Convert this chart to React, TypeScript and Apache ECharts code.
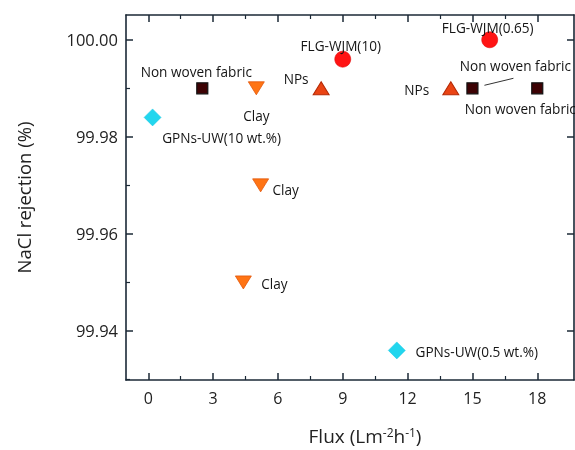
import React, { useEffect, useRef } from "react";
import * as echarts from "echarts";

// ---- data ----
const gpnsFlux = [0.2, 11.5];
const gpnsRejection = [99.984, 99.936];
const gpnsLabels = ["GPNs-UW(10 wt.%)", "GPNs-UW(0.5 wt.%)"];

const nonWovenFlux = [2.5, 15, 18];
const nonWovenRejection = [99.99, 99.99, 99.99];
const nonWovenLabels = ["Non woven fabric", "Non woven fabric", "Non woven fabric"];

const clayFlux = [5, 5.2, 4.4];
const clayRejection = [99.99, 99.97, 99.95];
const clayLabels = ["Clay", "Clay", "Clay"];

const npsFlux = [8, 14];
const npsRejection = [99.99, 99.99];
const npsLabels = ["NPs", "NPs"];

const flgFlux = [9, 15.8];
const flgRejection = [99.996, 100.0];
const flgLabels = ["FLG-WJM(10)", "FLG-WJM(0.65)"];

const xMajorTicks = [0, 3, 6, 9, 12, 15, 18];
const xMinorTicks = [1.5, 4.5, 7.5, 10.5, 13.5, 16.5];
const yMajorTicks = [99.94, 99.96, 99.98, 100.0];
const yMinorTicks = [99.93, 99.95, 99.97, 99.99];

// ---- styling (label offsets relative to each point) ----
const gpnsOffsets = [[69, 20], [80, 1]];
const nonWovenOffsets = [[-6, -17], [43, -23], [-17, 20]];
const clayOffsets = [[0, 27], [25, 4], [31, 1]];
const npsOffsets = [[-25, -10], [-34, 1]];
const flgOffsets = [[-2, -14], [-2, -12]];

const X_MIN = -1.03;
const X_MAX = 19.7;
const Y_MIN = 99.9299;
const Y_MAX = 100.0051;
const AXIS_COLOR = "#1b2836";
const FONT = "Open Sans";

function build(xs: number[], ys: number[], labels: string[], offsets: number[][]) {
  return xs.map((x, i) => ({
    value: [x, ys[i]],
    label: { offset: offsets[i] },
    name: labels[i],
  }));
}

export default function App() {
  const ref = useRef<HTMLDivElement>(null);
  useEffect(() => {
    if (!ref.current) return;
    const chart = echarts.init(ref.current, null, { renderer: "svg" });

    const labelBase = {
      show: true,
      position: "inside",
      align: "center",
      verticalAlign: "middle",
      color: "#151515",
      fontSize: 13.6,
      fontFamily: FONT,
      formatter: (p: any) => p.name,
    };

    const xAxisCommon = {
      type: "value",
      min: X_MIN,
      max: X_MAX,
      gridIndex: 0,
      splitLine: { show: false },
    };
    const yAxisCommon = {
      type: "value",
      min: Y_MIN,
      max: Y_MAX,
      gridIndex: 0,
      splitLine: { show: false },
    };

    chart.setOption({
      animation: false,
      grid: { left: 126, top: 15, right: 1, bottom: 69, containLabel: false },
      xAxis: [
        {
          ...xAxisCommon,
          position: "bottom",
          name: "Flux (Lm{sup|-2}h{sup|-1})",
          nameLocation: "middle",
          nameGap: 46,
          nameTextStyle: {
            fontSize: 19,
            fontFamily: FONT,
            color: "#222",
            padding: [0, 0, 0, 30],
            rich: {
              sup: { fontSize: 12, verticalAlign: "top", lineHeight: 12, fontFamily: FONT, color: "#222" },
            },
          },
          axisLine: { show: true, onZero: false, lineStyle: { color: AXIS_COLOR, width: 1.6 } },
          axisTick: { show: true, inside: true, length: 7, customValues: xMajorTicks, lineStyle: { color: AXIS_COLOR, width: 1.5 } },
          axisLabel: {
            show: true,
            customValues: xMajorTicks,
            margin: 10,
            fontSize: 16,
            fontFamily: FONT,
            color: "#222",
          },
        },
        {
          ...xAxisCommon,
          position: "bottom",
          axisLine: { show: false, onZero: false },
          axisTick: { show: true, inside: true, length: 4, customValues: xMinorTicks, lineStyle: { color: AXIS_COLOR, width: 1.2 } },
          axisLabel: { show: false },
        },
        {
          ...xAxisCommon,
          position: "top",
          axisLine: { show: true, onZero: false, lineStyle: { color: AXIS_COLOR, width: 1.6 } },
          axisTick: { show: true, inside: true, length: 7, customValues: xMajorTicks, lineStyle: { color: AXIS_COLOR, width: 1.5 } },
          axisLabel: { show: false },
        },
        {
          ...xAxisCommon,
          position: "top",
          axisLine: { show: false, onZero: false },
          axisTick: { show: true, inside: true, length: 4, customValues: xMinorTicks, lineStyle: { color: AXIS_COLOR, width: 1.2 } },
          axisLabel: { show: false },
        },
      ],
      yAxis: [
        {
          ...yAxisCommon,
          position: "left",
          name: "NaCl rejection (%)",
          nameLocation: "middle",
          nameGap: 93,
          nameRotate: 90,
          nameTextStyle: { fontSize: 18.5, fontFamily: FONT, color: "#222" },
          axisLine: { show: true, onZero: false, lineStyle: { color: AXIS_COLOR, width: 1.6 } },
          axisTick: { show: true, inside: true, length: 7, customValues: yMajorTicks, lineStyle: { color: AXIS_COLOR, width: 1.5 } },
          axisLabel: {
            show: true,
            customValues: yMajorTicks,
            margin: 8,
            fontSize: 16.5,
            fontFamily: FONT,
            color: "#222",
            formatter: (v: number) => v.toFixed(2),
          },
        },
        {
          ...yAxisCommon,
          position: "left",
          axisLine: { show: false, onZero: false },
          axisTick: { show: true, inside: true, length: 4, customValues: yMinorTicks, lineStyle: { color: AXIS_COLOR, width: 1.2 } },
          axisLabel: { show: false },
        },
        {
          ...yAxisCommon,
          position: "right",
          axisLine: { show: true, onZero: false, lineStyle: { color: AXIS_COLOR, width: 1.6 } },
          axisTick: { show: true, inside: true, length: 7, customValues: yMajorTicks, lineStyle: { color: AXIS_COLOR, width: 1.5 } },
          axisLabel: { show: false },
        },
      ],
      series: [
        {
          type: "scatter",
          name: "GPNs-UW",
          xAxisIndex: 0,
          yAxisIndex: 0,
          symbol: "diamond",
          symbolSize: [17, 17],
          itemStyle: { color: "#22d6ee", borderColor: "#19c6e0", borderWidth: 0.5, opacity: 1 },
          label: labelBase,
          data: build(gpnsFlux, gpnsRejection, gpnsLabels, gpnsOffsets),
        },
        {
          type: "scatter",
          name: "Non woven fabric",
          xAxisIndex: 0,
          yAxisIndex: 0,
          symbol: "rect",
          symbolSize: 11,
          itemStyle: { color: "#3d0204", borderColor: "#111", borderWidth: 1.2, opacity: 1 },
          label: labelBase,
          data: build(nonWovenFlux, nonWovenRejection, nonWovenLabels, nonWovenOffsets),
        },
        {
          type: "scatter",
          name: "Clay",
          xAxisIndex: 0,
          yAxisIndex: 0,
          symbol: "triangle",
          symbolRotate: 180,
          symbolSize: [16, 13],
          itemStyle: { color: "#ff7414", borderColor: "#e2560a", borderWidth: 0.8, opacity: 1 },
          label: labelBase,
          data: build(clayFlux, clayRejection, clayLabels, clayOffsets),
        },
        {
          type: "scatter",
          name: "NPs",
          xAxisIndex: 0,
          yAxisIndex: 0,
          symbol: "triangle",
          symbolSize: [16, 13],
          itemStyle: { color: "#ea4414", borderColor: "#b52a06", borderWidth: 1, opacity: 1 },
          label: labelBase,
          data: build(npsFlux, npsRejection, npsLabels, npsOffsets),
        },
        {
          type: "scatter",
          name: "FLG-WJM",
          xAxisIndex: 0,
          yAxisIndex: 0,
          symbol: "circle",
          symbolSize: 16,
          itemStyle: { color: "#ff1414", borderColor: "#e00a0a", borderWidth: 0.6, opacity: 1 },
          label: labelBase,
          data: build(flgFlux, flgRejection, flgLabels, flgOffsets),
        },
      ],
    });

    // leader line from the labelled square (15 Lm-2h-1) to its label
    const p = chart.convertToPixel({ xAxisIndex: 0, yAxisIndex: 0 }, [nonWovenFlux[1], nonWovenRejection[1]]) as number[];
    if (p) {
      chart.setOption({
        graphic: [
          {
            type: "line",
            shape: { x1: p[0] + 12, y1: p[1] - 3, x2: p[0] + 41, y2: p[1] - 10 },
            style: { stroke: "#333", lineWidth: 1 },
          },
        ],
      });
    }

    return () => chart.dispose();
  }, []);
  return <div ref={ref} style={{ position: "fixed", left: 0, top: 0, width: 575, height: 450 }} />;
}
